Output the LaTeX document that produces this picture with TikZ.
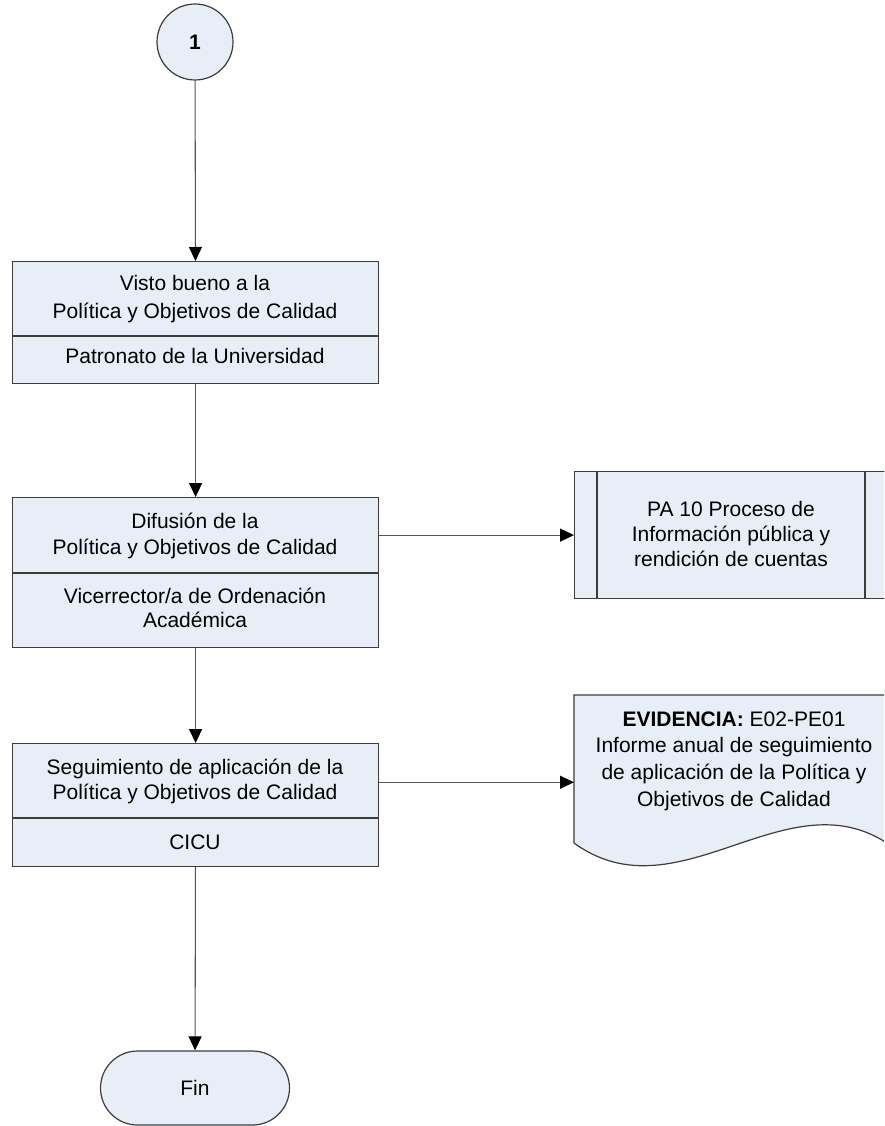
\documentclass[tikz,border=0pt]{standalone}
\usepackage{fontspec}
\setmainfont{Liberation Sans}
\usetikzlibrary{arrows.meta}
\definecolor{boxfill}{RGB}{232,238,248}
\definecolor{edge}{RGB}{60,60,60}
\definecolor{wire}{RGB}{85,85,85}
\tikzset{
  shp/.style={draw=edge, fill=boxfill, line width=0.9pt},
  frame/.style={shp, inner sep=0pt, anchor=north west},
  txt/.style={font=\fontsize{15.75pt}{#1}\selectfont, align=center, inner sep=0pt},
  txt/.default=19pt,
  arr/.style={draw=wire, line width=0.8pt, -{Triangle[length=10.5pt,width=9.75pt,fill=black,color=black]}},
  sep/.style={draw=edge, line width=0.9pt},
}
\begin{document}
\begin{tikzpicture}[x=0.75pt,y=-0.75pt]
\useasboundingbox (0,0) rectangle (884,1126);
\clip (0,0) rectangle (884,1126);

% start connector
\node[shp, circle, minimum size=57pt, inner sep=0pt, font=\fontsize{15.75pt}{19pt}\selectfont\bfseries] (c1) at (195,42) {1};

% box 1
\node[frame, minimum width=274.5pt, minimum height=91.5pt] (b1) at (12,261) {};
\draw[sep] (12,336) -- (378,336);
\node[txt=20.6pt] (b1t) at (195,299) {Visto bueno a la\\Política y Objetivos de Calidad};
\node[txt] (b1r) at (195,356) {Patronato de la Universidad};

% box 2
\node[frame, minimum width=274.5pt, minimum height=112.5pt] (b2) at (12,497) {};
\draw[sep] (12,573) -- (378,573);
\node[txt=19.5pt] (b2t) at (195,536) {Difusión de la\\Política y Objetivos de Calidad};
\node[txt=18pt] (b2r) at (195,608) {Vicerrector/a de Ordenación\\Académica};

% box 3
\node[frame, minimum width=274.5pt, minimum height=92.25pt] (b3) at (12,743) {};
\draw[sep] (12,818) -- (378,818);
\node[txt=18.75pt] (b3t) at (195,781) {Seguimiento de aplicación de la\\Política y Objetivos de Calidad};
\node[txt] (b3r) at (195,842) {CICU};

% predefined process PA 10
\node[frame, minimum width=235.5pt, minimum height=95.25pt] (pa) at (574,471) {};
\draw[sep] (597,471) -- (597,598);
\draw[sep] (865,471) -- (865,598);
\node[txt=18.75pt] (pat) at (731,534) {PA 10 Proceso de\\Información pública y\\rendición de cuentas};

% document: evidence
\node[inner sep=0pt, anchor=north west, minimum width=240pt, minimum height=130.5pt] (ev) at (574,695) {};
\draw[shp] (574,843) -- (574,695) -- (894,695) -- (894,848)
  .. controls (790,770) and (680,920) .. (574,843) -- cycle;
\node[txt=20pt] (evt) at (734,761) {\textbf{EVIDENCIA:} E02-PE01\\Informe anual de seguimiento\\de aplicación de la Política y\\Objetivos de Calidad};

% terminator
\node[shp, rounded corners=27.75pt, minimum width=141.75pt, minimum height=55.5pt, inner sep=0pt, txt] (fin) at (195,1088) {Fin};

% connectors
\draw[arr] (c1) -- (b1);
\draw[arr] (b1) -- (b2);
\draw[arr] (b2) -- (b3);
\draw[arr] (b3) -- (fin);
\draw[arr] (pa.west -| b2.east) -- (pa.west);
\draw[arr] (ev.west -| b3.east) -- (ev.west);
\end{tikzpicture}
\end{document}
